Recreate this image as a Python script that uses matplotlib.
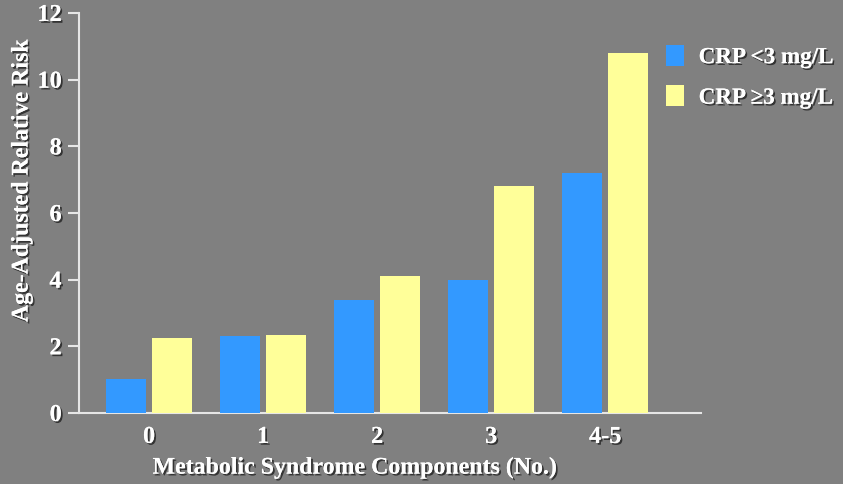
import matplotlib
matplotlib.use("Agg")
import matplotlib.pyplot as plt
import matplotlib.patheffects as pe
from matplotlib.patches import Patch
import numpy as np

categories = ["0", "1", "2", "3", "4-5"]
crp_low = [1.03, 2.3, 3.4, 4.0, 7.2]
crp_high = [2.26, 2.35, 4.1, 6.8, 10.8]
series_names = ["CRP <3 mg/L", "CRP \u22653 mg/L"]
yticks = [0, 2, 4, 6, 8, 10, 12]

BG = "#808080"
BLUE = "#3399FF"
YELLOW = "#FFFF99"
AX = "#E6E6E6"

plt.rcParams["font.family"] = ["Liberation Serif", "DejaVu Serif"]
plt.rcParams["font.weight"] = "bold"

shadow = [pe.withSimplePatchShadow(offset=(1.3, -1.3), shadow_rgbFace="black", alpha=0.6), pe.Normal()]

W, H = 843, 484
fig = plt.figure(figsize=(W / 100, H / 100), dpi=100, facecolor=BG)
left, right, bottom, top = 79, 701, 413, 13
ax = fig.add_axes([left / W, (H - bottom) / H, (right - left) / W, (bottom - top) / H])
ax.set_facecolor(BG)

x = np.arange(len(categories))
bw = 0.35
ax.bar(x - 0.2, crp_low, width=bw, color=BLUE, label=series_names[0], zorder=3)
ax.bar(x + 0.2, crp_high, width=bw, color=YELLOW, label=series_names[1], zorder=3)

ax.set_xlim(-0.614, 4.84)
ax.set_ylim(0, 12)
ax.set_yticks(yticks)
ax.set_xticks(x)
ax.set_xticklabels(categories)

for s in ["top", "right"]:
    ax.spines[s].set_visible(False)
for s in ["left", "bottom"]:
    ax.spines[s].set_color(AX)
    ax.spines[s].set_linewidth(1.5)

ax.tick_params(axis="y", direction="out", length=8, width=1.5, color=AX, pad=4.5,
               labelsize=17.5, labelcolor="white")
ax.tick_params(axis="x", length=0, pad=10, labelsize=17.5, labelcolor="white")
for lab in ax.get_xticklabels() + ax.get_yticklabels():
    lab.set_fontweight("bold")
    lab.set_path_effects(shadow)

fig.text(355 / W, 1 - 468 / H, "Metabolic Syndrome Components (No.)", ha="center", va="center",
         fontsize=17.2, fontweight="bold", color="white", path_effects=shadow)
fig.text(22 / W, 1 - 180 / H, "Age-Adjusted Relative Risk", ha="center", va="center", rotation=90,
         fontsize=17.2, fontweight="bold", color="white", path_effects=shadow)

handles = [Patch(facecolor=BLUE, edgecolor="none"), Patch(facecolor=YELLOW, edgecolor="none")]
leg = fig.legend(handles, series_names, loc="upper left", bbox_to_anchor=(659 / W, 1 - 38 / H),
                 frameon=False, fontsize=16.6, handlelength=0.8, handleheight=1.0,
                 handletextpad=0.62, labelspacing=0.75, borderaxespad=0, borderpad=0.3)
for t in leg.get_texts():
    t.set_color("white")
    t.set_fontweight("bold")
    t.set_path_effects(shadow)

fig.savefig("out.png", dpi=100, facecolor=BG)
